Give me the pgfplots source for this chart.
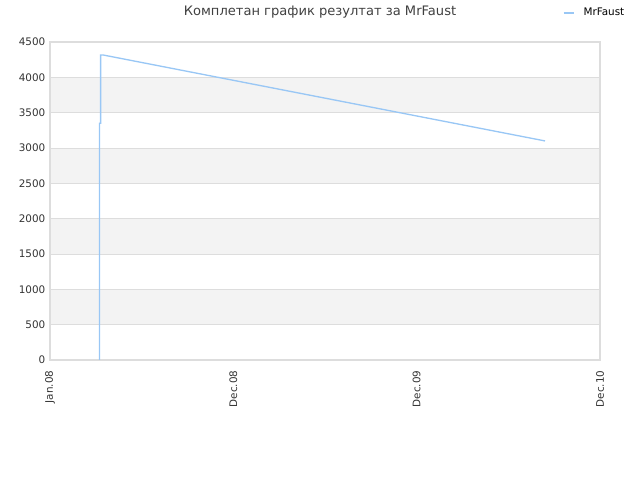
\documentclass[border=0pt]{standalone}
\usepackage{pgfplots}
\pgfplotsset{compat=1.18}
\usepackage{fontspec}
\setmainfont{DejaVu Sans}
\definecolor{serie}{HTML}{99C7F5}
\definecolor{band}{HTML}{F3F3F3}
\definecolor{gridc}{HTML}{DDDDDD}
\definecolor{txt}{HTML}{333333}
\begin{document}
\begin{tikzpicture}
\begin{axis}[
  set layers,
  scale only axis,
  width=412.5pt, height=238.5pt,
  xmin=0, xmax=3, ymin=0, ymax=4500,
  xtick={0,1,2,3},
  xticklabels={Jan.08,Dec.08,Dec.09,Dec.10},
  xticklabel style={rotate=90, anchor=east, xshift=-4.5pt, font=\fontsize{7.8}{9}\selectfont, text=txt},
  ytick={0,500,...,4500},
  yticklabel style={font=\fontsize{7.8}{9}\selectfont, text=txt},
  /pgf/number format/assume math mode=true,
  /pgf/number format/1000 sep={},
  major tick length=0pt,
  ymajorgrids, grid style={gridc, line width=0.6pt},
  axis line style={gridc, line width=0.8pt},
  clip=false,
  legend style={draw=none, fill=none, at={(rel axis cs:0.932,1.091)}, anchor=west,
    font=\fontsize{7.8}{9}\selectfont, inner sep=0pt,
    nodes={inner sep=3pt}},
  legend image code/.code={\draw[#1, line width=1pt] (0pt,0pt) -- (7.5pt,0pt);},
  legend cell align=left,
]
\pgfonlayer{axis background}
\foreach \b in {500,1500,2500,3500} {
  \edef\tmp{\noexpand\fill[band] (axis cs:0,\b) rectangle (axis cs:3,\b+500);}
  \tmp
}
\endpgfonlayer
\addplot[serie, line width=1pt] coordinates {
  (0.270,0) (0.270,540) (0.270,2380) (0.270,3350) (0.276,3350)
  (0.276,4316) (0.29,4316) (2.70,3100)
};
\addlegendentry{\hspace{4pt}MrFaust}
\node[font=\fontsize{9.8}{11}\selectfont, text=black!75] at ([xshift=-3.75pt,yshift=22.5pt]rel axis cs:0.5,1) {Комплетан график резултат за MrFaust};
\end{axis}
\path[use as bounding box] ([xshift=-37.5pt,yshift=-90pt]current axis.south west) rectangle ([xshift=30pt,yshift=31.5pt]current axis.north east);
\end{tikzpicture}
\end{document}
